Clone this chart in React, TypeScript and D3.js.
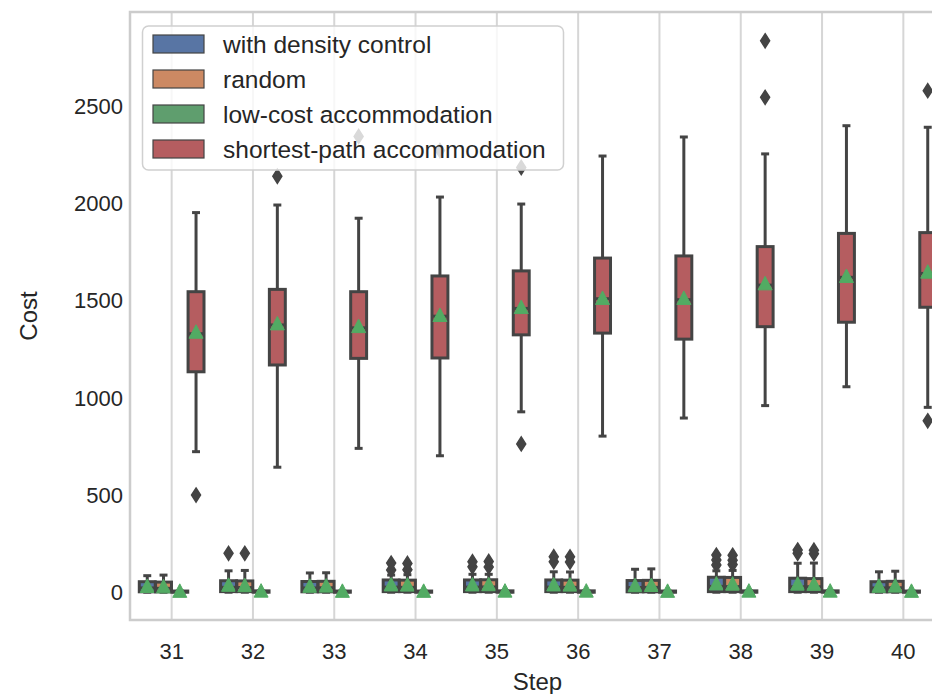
import * as d3 from "d3";
import { useEffect, useRef } from "react";

// categories
const steps = ["31", "32", "33", "34", "35", "36", "37", "38", "39", "40"];
const methods = [
  "with density control",
  "random",
  "low-cost accommodation",
  "shortest-path accommodation",
];
const yTicks = [0, 500, 1000, 1500, 2000, 2500];

// box stats per step: [whiskerLow, q1, median, q3, whiskerHigh, mean]
const densityBoxes = [
  [0, 2, 22, 54, 85, 32],
  [0, 3, 25, 59, 110, 38],
  [0, 2, 22, 55, 99, 33],
  [0, 3, 26, 63, 88, 40],
  [0, 3, 26, 63, 92, 40],
  [0, 3, 26, 63, 105, 40],
  [0, 2, 24, 60, 118, 36],
  [0, 3, 30, 77, 110, 45],
  [0, 3, 28, 72, 149, 44],
  [0, 2, 22, 54, 105, 33],
];
const densityFliers = [[], [200], [], [114, 150], [131, 157], [157, 183], [], [140, 166, 191], [200, 217], []];

const randomBoxes = [
  [0, 2, 20, 52, 88, 30],
  [0, 3, 24, 58, 112, 36],
  [0, 2, 23, 56, 100, 34],
  [0, 3, 25, 62, 90, 39],
  [0, 3, 27, 64, 92, 41],
  [0, 3, 25, 62, 104, 39],
  [0, 2, 25, 61, 120, 37],
  [0, 3, 29, 76, 112, 44],
  [0, 3, 28, 70, 150, 43],
  [0, 2, 23, 56, 108, 34],
];
const randomFliers = [[], [200], [], [116, 148], [130, 158], [155, 182], [], [142, 165, 190], [198, 216], []];

const lowCostBoxes = [
  [0, 0, 2, 6, 6, 7],
  [0, 0, 2, 7, 7, 8],
  [0, 0, 2, 6, 6, 7],
  [0, 0, 2, 6, 6, 7],
  [0, 0, 2, 7, 7, 8],
  [0, 0, 2, 7, 7, 8],
  [0, 0, 2, 6, 6, 7],
  [0, 0, 2, 7, 7, 8],
  [0, 0, 2, 7, 7, 8],
  [0, 0, 2, 6, 6, 7],
];
const lowCostFliers = [[], [], [], [], [], [], [], [], [], []];

const shortestBoxes = [
  [723, 1134, 1330, 1546, 1953, 1340],
  [643, 1169, 1375, 1558, 1992, 1383],
  [740, 1203, 1360, 1546, 1924, 1369],
  [702, 1205, 1420, 1627, 2033, 1426],
  [928, 1324, 1460, 1653, 1997, 1467],
  [803, 1333, 1510, 1719, 2244, 1514],
  [896, 1302, 1505, 1730, 2342, 1514],
  [960, 1366, 1580, 1778, 2255, 1589],
  [1057, 1389, 1620, 1846, 2400, 1627],
  [951, 1466, 1640, 1850, 2392, 1649],
];
const shortestFliers = [[500], [2140], [2345], [2272], [2185, 763], [], [], [2837, 2546], [], [2580, 882]];

const colors = ["#5875A4", "#CC8963", "#5F9E6E", "#B55D60"];

const App = () => {
  const ref = useRef<SVGSVGElement>(null);

  useEffect(() => {
    document.body.style.margin = "0";
    drawChart();
  }, []);

  const drawChart = () => {
    const svg = d3.select(ref.current);
    svg.selectAll("*").remove();

    const width = 932, height = 694;
    const left = 131, right = 944, top = 12, bottom = 620;
    const gray = "#444444";
    const font = "'Liberation Sans', Arial, sans-serif";

    const x = d3.scaleBand().domain(steps).range([left, right]);
    const bw = x.bandwidth();
    const hue = d3.scaleBand().domain(methods).range([-0.4 * bw, 0.4 * bw]);
    const boxW = hue.bandwidth() * 0.98;
    const y = d3.scaleLinear().domain([-143, 2985]).range([bottom, top]);

    svg.attr("width", width).attr("height", height);

    // vertical grid lines
    svg.append("g")
      .selectAll("line")
      .data(steps)
      .join("line")
      .attr("x1", d => x(d)! + bw / 2)
      .attr("x2", d => x(d)! + bw / 2)
      .attr("y1", top)
      .attr("y2", bottom)
      .attr("stroke", "#d6d6d6")
      .attr("stroke-width", 2);

    const boxes = [densityBoxes, randomBoxes, lowCostBoxes, shortestBoxes];
    const fliers = [densityFliers, randomFliers, lowCostFliers, shortestFliers];

    methods.forEach((m, hi) => {
      const g = svg.append("g");
      const rows = boxes[hi].map((b, i) => ({ step: steps[i], b, fl: fliers[hi][i] }));
      const cx = (d) => x(d.step)! + bw / 2 + hue(m)! + hue.bandwidth() / 2;

      // whiskers
      g.selectAll("line.wl")
        .data(rows)
        .join("line")
        .attr("x1", cx).attr("x2", cx)
        .attr("y1", d => y(d.b[0])).attr("y2", d => y(d.b[1]))
        .attr("stroke", gray).attr("stroke-width", 3);
      g.selectAll("line.wh")
        .data(rows)
        .join("line")
        .attr("x1", cx).attr("x2", cx)
        .attr("y1", d => y(d.b[3])).attr("y2", d => y(d.b[4]))
        .attr("stroke", gray).attr("stroke-width", 3);
      // caps
      [0, 4].forEach(k => {
        g.append("g").selectAll("line")
          .data(rows)
          .join("line")
          .attr("x1", d => cx(d) - boxW / 4).attr("x2", d => cx(d) + boxW / 4)
          .attr("y1", d => y(d.b[k])).attr("y2", d => y(d.b[k]))
          .attr("stroke", gray).attr("stroke-width", 3);
      });
      // box
      g.append("g").selectAll("rect")
        .data(rows)
        .join("rect")
        .attr("x", d => cx(d) - boxW / 2)
        .attr("width", boxW)
        .attr("y", d => y(d.b[3]))
        .attr("height", d => Math.max(0, y(d.b[1]) - y(d.b[3])))
        .attr("fill", colors[hi])
        .attr("stroke", gray).attr("stroke-width", 3);
      // median
      g.append("g").selectAll("line")
        .data(rows)
        .join("line")
        .attr("x1", d => cx(d) - boxW / 2).attr("x2", d => cx(d) + boxW / 2)
        .attr("y1", d => y(d.b[2])).attr("y2", d => y(d.b[2]))
        .attr("stroke", gray).attr("stroke-width", 3);
      // outliers (thin diamonds)
      const fl = rows.flatMap(d => d.fl.map(v => ({ cx: cx(d), v })));
      g.append("g").selectAll("path")
        .data(fl)
        .join("path")
        .attr("d", d => {
          const px = d.cx, py = y(d.v);
          return `M${px},${py - 7}L${px + 4.5},${py}L${px},${py + 7}L${px - 4.5},${py}Z`;
        })
        .attr("fill", gray).attr("stroke", gray).attr("stroke-width", 1.5);
      // means
      g.append("g").selectAll("path")
        .data(rows)
        .join("path")
        .attr("d", d => {
          const px = cx(d), py = y(d.b[5]);
          return `M${px},${py - 7}L${px + 7},${py + 6.5}L${px - 7},${py + 6.5}Z`;
        })
        .attr("fill", "#52AB63").attr("stroke", "#52AB63").attr("stroke-width", 1);
    });

    // frame (left, top, bottom)
    svg.append("path")
      .attr("d", `M${width},${top}H${left - 1}V${bottom}H${width}`)
      .attr("fill", "none")
      .attr("stroke", "#cccccc")
      .attr("stroke-width", 2.5);

    // y tick labels
    svg.append("g")
      .selectAll("text")
      .data(yTicks)
      .join("text")
      .attr("x", left - 8)
      .attr("y", d => y(d))
      .attr("dy", "0.35em")
      .attr("text-anchor", "end")
      .attr("font-family", font)
      .attr("font-size", 22)
      .attr("fill", "#262626")
      .text(d => d);

    // x tick labels
    svg.append("g")
      .selectAll("text")
      .data(steps)
      .join("text")
      .attr("x", d => x(d)! + bw / 2)
      .attr("y", 659)
      .attr("text-anchor", "middle")
      .attr("font-family", font)
      .attr("font-size", 22)
      .attr("fill", "#262626")
      .text(d => d);

    // axis labels
    svg.append("text")
      .attr("x", (left + right) / 2)
      .attr("y", 690)
      .attr("text-anchor", "middle")
      .attr("font-family", font)
      .attr("font-size", 24)
      .attr("fill", "#262626")
      .text("Step");
    svg.append("text")
      .attr("transform", `translate(37,${(top + bottom) / 2}) rotate(-90)`)
      .attr("text-anchor", "middle")
      .attr("font-family", font)
      .attr("font-size", 24)
      .attr("fill", "#262626")
      .text("Cost");

    // legend
    const lg = svg.append("g");
    lg.append("rect")
      .attr("x", 142.5).attr("y", 26)
      .attr("width", 421).attr("height", 144)
      .attr("rx", 6)
      .attr("fill", "white").attr("fill-opacity", 0.8)
      .attr("stroke", "#d0d0d0").attr("stroke-width", 1.5);
    const items = lg.selectAll("g.item")
      .data(methods)
      .join("g")
      .attr("transform", (d, i) => `translate(0,${44 + i * 35})`);
    items.append("rect")
      .attr("x", 153).attr("y", -9)
      .attr("width", 51).attr("height", 18)
      .attr("fill", (d, i) => colors[i])
      .attr("stroke", gray).attr("stroke-width", 1.2);
    items.append("text")
      .attr("x", 223)
      .attr("dy", "0.35em")
      .attr("font-family", font)
      .attr("font-size", 24.5)
      .attr("fill", "#262626")
      .text(d => d);
  };

  return <svg ref={ref} style={{ display: "block" }}></svg>;
};

export default App;
